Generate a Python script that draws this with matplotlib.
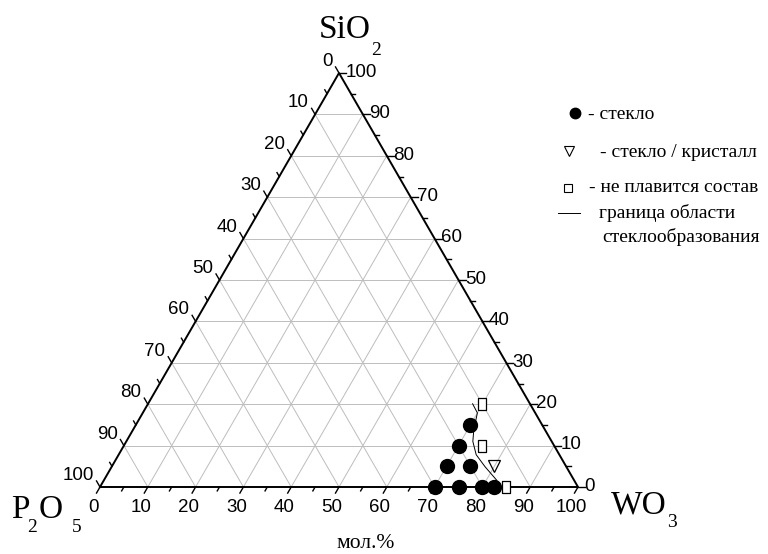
import numpy as np
import matplotlib.pyplot as plt

# compositions in mol.%: WO3 and SiO2 given, P2O5 = 100 - WO3 - SiO2
glass_wo3 = [70, 75, 80, 82.5, 70, 75, 70, 70]
glass_sio2 = [0, 0, 0, 0, 5, 5, 10, 15]
partial_wo3 = [80]
partial_sio2 = [5]
unmelted_wo3 = [70, 75, 85]
unmelted_sio2 = [20, 10, 0]
# boundary of the glass-forming region
border_wo3 = [67.9, 70.0, 71.3, 72.5, 74.8, 78.1, 82.1, 83.7]
border_sio2 = [20.1, 17.9, 13.8, 11.0, 7.8, 4.9, 1.7, 0.2]

tick_values = list(range(0, 101, 10))
minor_values = list(range(5, 100, 10))

legend_labels = ["- стекло", "- стекло / кристалл", "- не плавится состав",
                 "граница области", "стеклообразования"]

H = np.sqrt(3) / 2
W, HGT = 768, 554
PX = 4.78  # pixels per data unit


def tern(w, s):
    w = np.asarray(w, float)
    s = np.asarray(s, float)
    return w + s / 2, s * H


def fx(x):
    return x / W


def fy(y):
    return 1 - y / HGT


fig = plt.figure(figsize=(W / 100, HGT / 100), dpi=100)
ax = fig.add_axes([100 / W, 67 / HGT, 478 / W, 414 / HGT])
ax.set_xlim(0, 100)
ax.set_ylim(0, 100 * H)
ax.axis("off")

grid_kw = dict(color="#bdbdbd", lw=0.7, zorder=1)
for v in range(10, 100, 10):
    ax.plot(*tern([0, 100 - v], [v, v]), **grid_kw)
    ax.plot(*tern([v, v], [0, 100 - v]), **grid_kw)
    ax.plot(*tern([100 - v, 0], [0, 100 - v]), **grid_kw)

# triangle frame
ax.plot(*tern([0, 100, 0, 0], [0, 0, 100, 0]), color="black", lw=1.4,
        zorder=3, clip_on=False, solid_joinstyle="miter")

# ticks
dirs = {"bottom": (-0.5, -H), "right": (1.0, 0.0), "left": (-0.5, H)}


def tick_base(side, v):
    if side == "bottom":
        return tern(v, 0)
    if side == "right":
        return tern(100 - v, v)
    return tern(0, 100 - v)


for side, (dx, dy) in dirs.items():
    for vals, length in ((tick_values, 7), (minor_values, 4.5)):
        for v in vals:
            x0, y0 = tick_base(side, v)
            L = length / PX
            ax.plot([x0, x0 + dx * L], [y0, y0 + dy * L], color="black",
                    lw=1.0, zorder=3, clip_on=False)

tick_font = dict(family="Liberation Sans", size=13.5, color="black")
for v in tick_values:
    x0, y0 = tick_base("bottom", v)
    ax.annotate(str(v), (x0, y0), xytext=(-5, -8.5), textcoords="offset points",
                ha="center", va="top", annotation_clip=False, **tick_font)
    x0, y0 = tick_base("right", v)
    ax.annotate(str(v), (x0, y0), xytext=(4.5, 0.5), textcoords="offset points",
                ha="left", va="center", annotation_clip=False, **tick_font)
    x0, y0 = tick_base("left", v)
    ax.annotate(str(v), (x0, y0), xytext=(-4.5, 5), textcoords="offset points",
                ha="right", va="baseline", annotation_clip=False, **tick_font)

# data
ax.plot(*tern(border_wo3, border_sio2), color="black", lw=0.7, zorder=4)
ax.plot(*tern(glass_wo3, glass_sio2), ls="none", marker="o", ms=10,
        color="black", zorder=5, clip_on=False)
rect = [(-0.65, -1), (0.65, -1), (0.65, 1), (-0.65, 1), (-0.65, -1)]
ax.plot(*tern(unmelted_wo3, unmelted_sio2), ls="none", marker=rect, ms=9.1,
        mfc="white", mec="black", mew=0.9, zorder=5, clip_on=False)
ax.plot(*tern(partial_wo3, partial_sio2), ls="none", marker="v", ms=9.3,
        mfc="none", mec="black", mew=0.9, zorder=5)

# component labels
big = dict(family="Liberation Serif", size=24, color="black", ha="left", va="baseline")
sub = dict(family="Liberation Serif", size=14, color="black", ha="left", va="baseline")
fig.text(fx(319), fy(38), "SiO", **big)
fig.text(fx(371), fy(55), "2", **sub)
fig.text(fx(11), fy(518), "P", **big)
fig.text(fx(27), fy(532), "2", **sub)
fig.text(fx(39), fy(518), "O", **big)
fig.text(fx(72), fy(532), "5", **sub)
fig.text(fx(611), fy(513), "WO", **big)
fig.text(fx(667), fy(527), "3", **sub)
fig.text(fx(366), fy(548), "мол.%", family="Liberation Serif", size=15.5,
         ha="center", va="baseline")

# legend
leg = dict(family="Liberation Serif", size=14, color="black", ha="left", va="baseline")
fig.add_artist(plt.Line2D([fx(575)], [fy(113)], marker="o", ms=7.5, color="black"))
fig.add_artist(plt.Line2D([fx(569)], [fy(151)], marker="v", ms=7, mfc="none",
                          mec="black", mew=0.8))
fig.add_artist(plt.Line2D([fx(568)], [fy(188)], marker="s", ms=5.3, mfc="none",
                          mec="black", mew=0.8))
fig.add_artist(plt.Line2D([fx(558), fx(580)], [fy(213), fy(213)], color="black", lw=0.7))
fig.text(fx(588), fy(119), legend_labels[0], **leg)
fig.text(fx(600), fy(157), legend_labels[1], **leg)
fig.text(fx(589), fy(192), legend_labels[2], **leg)
fig.text(fx(599), fy(218), legend_labels[3], **leg)
fig.text(fx(602), fy(242), legend_labels[4], **leg)

fig.savefig("out.png", dpi=100)
